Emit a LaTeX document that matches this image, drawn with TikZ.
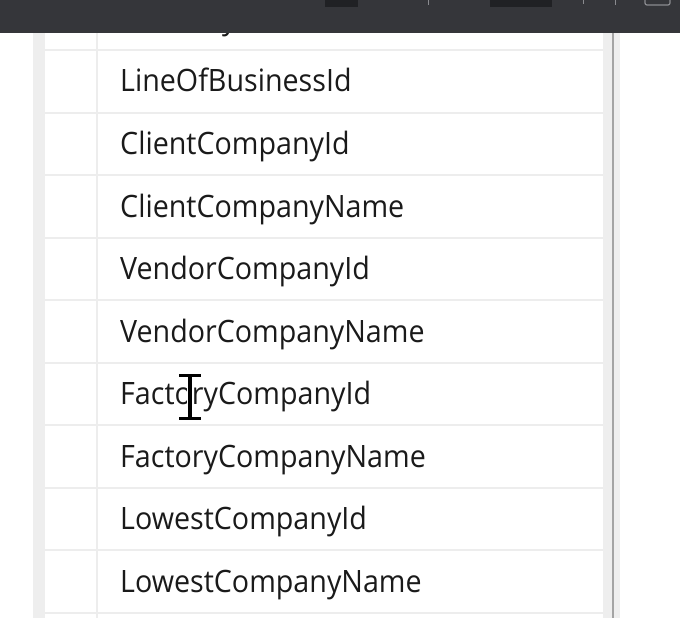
\documentclass[tikz,border=0pt]{standalone}
\usepackage{fontspec}
\newfontfamily\cellfont[FakeStretch=0.93]{Open Sans}
\definecolor{barbg}{HTML}{35363A}
\definecolor{bardark}{HTML}{202124}
\definecolor{gridline}{HTML}{EDEDED}
\definecolor{sideband}{HTML}{EEEEEE}
\definecolor{edgeline}{HTML}{A4A4A4}
\definecolor{celltext}{HTML}{1A1A1A}
\definecolor{barline}{HTML}{8A8B8F}

\tikzset{
    cell/.style={anchor=base west, inner sep=0pt, text=celltext,
        font=\cellfont\fontsize{30.8}{36}\selectfont},
    rowline/.style={draw=gridline, line width=2pt},
}

\begin{document}
\begin{tikzpicture}[x=1pt, y=-1pt]
    \useasboundingbox (0, 0) rectangle (680, 618);
    \fill[white] (0, 0) rectangle (680, 618);

    % table frame
    \fill[sideband] (33, 33) rectangle (45, 618);
    \fill[sideband] (603, 33) rectangle (620, 618);
    \draw[edgeline, line width=1.5pt] (613, 33) -- (613, 618);
    \draw[rowline] (97, 33) -- (97, 618);

    \draw[rowline] (45, 50) -- (603, 50);
    \draw[rowline] (45, 112.5) -- (603, 112.5);
    \draw[rowline] (45, 175) -- (603, 175);
    \draw[rowline] (45, 237.5) -- (603, 237.5);
    \draw[rowline] (45, 300) -- (603, 300);
    \draw[rowline] (45, 362.5) -- (603, 362.5);
    \draw[rowline] (45, 425) -- (603, 425);
    \draw[rowline] (45, 487.5) -- (603, 487.5);
    \draw[rowline] (45, 550) -- (603, 550);
    \draw[rowline] (45, 612.5) -- (603, 612.5);

    \node[cell] (prev) at (222, 29.5) {y};
    \node[cell] (lob) at (120, 92) {LineOfBusinessId};
    \node[cell] (clientid) at (120, 154.5) {ClientCompanyId};
    \node[cell] (clientname) at (120, 217) {ClientCompanyName};
    \node[cell] (vendorid) at (120, 279.5) {VendorCompanyId};
    \node[cell] (vendorname) at (120, 342) {VendorCompanyName};
    \node[cell] (factoryid) at (120, 404.5) {FactoryCompanyId};
    \node[cell] (factoryname) at (120, 467) {FactoryCompanyName};
    \node[cell] (lowestid) at (120, 529.5) {LowestCompanyId};
    \node[cell] (lowestname) at (120, 592) {LowestCompanyName};

    % text cursor
    \coordinate (curtop) at (190, 375);
    \coordinate (curbot) at (190, 418);
    \draw[white, line width=6pt] ([xshift=-12pt]curtop) -- ([xshift=12pt]curtop);
    \draw[white, line width=6pt] ([xshift=-12pt]curbot) -- ([xshift=12pt]curbot);
    \draw[white, line width=6.5pt] (curtop) -- (curbot);
    \draw[black, line width=3.5pt] (curtop) -- (curbot);
    \draw[black, line width=3pt] ([xshift=-11pt]curtop) -- ([xshift=11pt]curtop);
    \draw[black, line width=3pt] ([xshift=-11pt]curbot) -- ([xshift=11pt]curbot);

    % browser bar
    \fill[barbg] (0, 0) rectangle (680, 33);
    \fill[bardark] (325, 0) rectangle (358, 7);
    \fill[bardark] (490, 0) rectangle (552, 7);
    \draw[barline, line width=1pt] (428, 0) -- (428, 5);
    \draw[barline, line width=1pt] (583, 0) -- (583, 4);
    \draw[barline, line width=1pt] (615, 0) -- (615, 5);
    \draw[barline, line width=1.2pt, rounded corners=2pt] (645, -4) rectangle (670, 5);
\end{tikzpicture}
\end{document}
